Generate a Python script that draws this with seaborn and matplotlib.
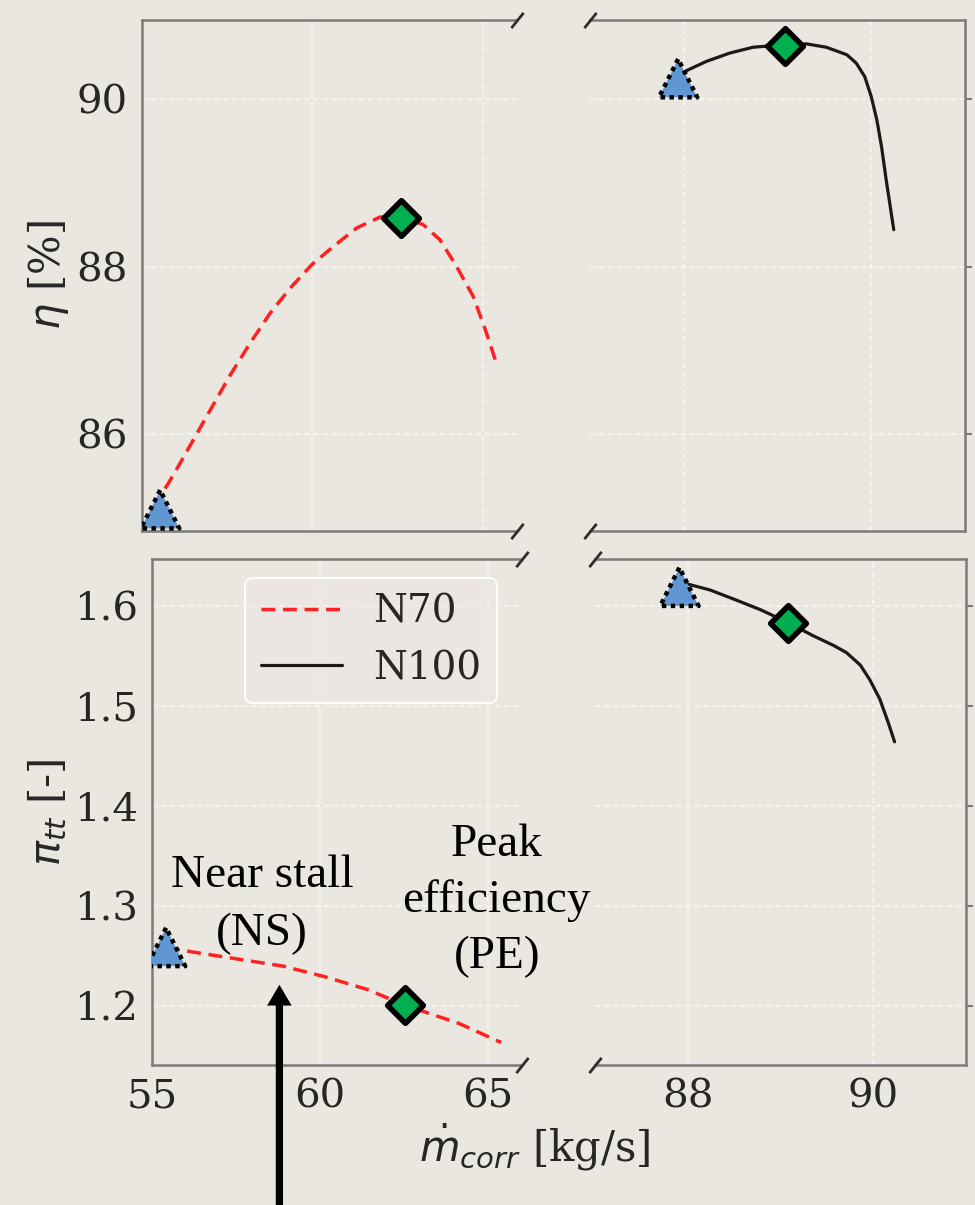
import matplotlib
matplotlib.use("Agg")
import matplotlib.pyplot as plt
import seaborn as sns

# ---------------- data ----------------
# efficiency, N70 (left part of broken axis)
n70_mdot_eta = [55.54, 55.63, 55.93, 56.32, 56.71, 57.10, 57.59, 58.17, 58.76, 59.35,
                59.98, 60.62, 61.30, 61.98, 62.60, 63.25, 63.74, 64.23, 64.72, 65.11, 65.40]
n70_eta = [85.10, 85.31, 85.51, 85.79, 86.07, 86.35, 86.70, 87.08, 87.44, 87.74,
           88.02, 88.24, 88.46, 88.59, 88.60, 88.50, 88.32, 88.00, 87.64, 87.20, 86.84]
# efficiency, N100 (right part)
n100_mdot_eta = [87.94, 88.01, 88.24, 88.49, 88.74, 89.08, 89.31, 89.52, 89.74, 89.84,
                 89.93, 90.00, 90.06, 90.11, 90.16, 90.24]
n100_eta = [90.25, 90.33, 90.45, 90.55, 90.62, 90.65, 90.66, 90.62, 90.53, 90.43,
            90.27, 90.03, 89.75, 89.43, 89.03, 88.44]
# total pressure ratio, N70
n70_mdot_pr = [55.41, 55.67, 57.30, 58.90, 60.15, 61.41, 62.52, 64.14, 65.39]
n70_pr = [1.2586, 1.2564, 1.2478, 1.2394, 1.2287, 1.2160, 1.2003, 1.1820, 1.1630]
# total pressure ratio, N100
n100_mdot_pr = [87.92, 88.02, 88.24, 88.49, 88.78, 89.07, 89.35, 89.57, 89.71, 89.86,
                89.96, 90.07, 90.16, 90.23]
n100_pr = [1.6225, 1.6212, 1.6158, 1.6069, 1.5962, 1.5837, 1.5701, 1.5604, 1.5532, 1.5407,
           1.5264, 1.5068, 1.4836, 1.4639]

# operating points: near stall (NS) and peak efficiency (PE)
ns_mdot_eta = [55.54, 87.94]
ns_eta = [85.10, 90.25]
pe_mdot_eta = [62.60, 89.08]
pe_eta = [88.58, 90.63]
ns_mdot_pr = [55.41, 87.91]
ns_pr = [1.2586, 1.619]
pe_mdot_pr = [62.52, 89.08]
pe_pr = [1.2003, 1.5825]

speed_labels = ["N70", "N100"]
left_xticks = [55, 60, 65]
right_xticks = [88, 90]
eta_ticks = [86, 88, 90]
pr_ticks = [1.2, 1.3, 1.4, 1.5, 1.6]

# ---------------- style ----------------
bg = "#eae6e0"
spine_c = "#7b7b7b"
sns.set_theme(style="whitegrid", rc={
    "axes.facecolor": bg,
    "figure.facecolor": bg,
    "axes.edgecolor": spine_c,
    "axes.linewidth": 1.8,
    "grid.color": "white",
    "axes.axisbelow": True,
})
plt.rcParams["font.family"] = ["DejaVu Serif"]
plt.rcParams["mathtext.fontset"] = "dejavusans"

W, H = 975, 1205
fig = plt.figure(figsize=(W / 100, H / 100), dpi=100, facecolor=bg)


def box(x0, x1, ytop, ybot):
    return [x0 / W, 1 - ybot / H, (x1 - x0) / W, (ybot - ytop) / H]


ax_tl = fig.add_axes(box(141.7, 517, 19.6, 531))
ax_tr = fig.add_axes(box(590, 965, 19.6, 531))
ax_bl = fig.add_axes(box(152.3, 521.7, 559.3, 1065))
ax_br = fig.add_axes(box(595, 966, 559.3, 1065))

red = "#ff2020"
dark = "#1a1a1a"
blue = "#6097d2"
green = "#00b050"


def draw(ax, x70, y70, x100, y100, nsx, nsy, pex, pey):
    sns.lineplot(x=x70, y=y70, ax=ax, color=red, linestyle=(0, (4.0, 2.2)),
                 linewidth=2.5, label=speed_labels[0], errorbar=None, zorder=3)
    sns.lineplot(x=x100, y=y100, ax=ax, color=dark, linewidth=2.3,
                 label=speed_labels[1], errorbar=None, zorder=3)
    sns.scatterplot(x=nsx, y=nsy, ax=ax, marker="^", s=760, color=blue,
                    edgecolor="black", linewidth=3.2, linestyle=(0, (1, 1)), zorder=5)
    sns.scatterplot(x=pex, y=pey, ax=ax, marker="D", s=330, color=green,
                    edgecolor="black", linewidth=4.0, zorder=6)
    lg = ax.get_legend()
    if lg is not None:
        lg.remove()
    ax.set_facecolor(bg)
    ax.grid(True, color="white", linestyle=(0, (3, 2)), linewidth=1.3, alpha=0.6)
    ax.set_xlabel("")
    ax.set_ylabel("")


for ax in (ax_tl, ax_tr):
    draw(ax, n70_mdot_eta, n70_eta, n100_mdot_eta, n100_eta,
         ns_mdot_eta, ns_eta, pe_mdot_eta, pe_eta)
    ax.set_ylim(84.84, 90.95)
    ax.set_yticks(eta_ticks)
for ax in (ax_bl, ax_br):
    draw(ax, n70_mdot_pr, n70_pr, n100_mdot_pr, n100_pr,
         ns_mdot_pr, ns_pr, pe_mdot_pr, pe_pr)
    ax.set_ylim(1.1405, 1.6465)
    ax.set_yticks(pr_ticks)

for ax in (ax_tl, ax_bl):
    ax.set_xlim(55, 66)
    ax.set_xticks(left_xticks)
    ax.spines["right"].set_visible(False)
for ax in (ax_tr, ax_br):
    ax.set_xlim(87, 91)
    ax.set_xticks(right_xticks)
    ax.spines["left"].set_visible(False)
    ax.yaxis.tick_right()

for ax in (ax_tl, ax_tr, ax_bl, ax_br):
    for sp in ax.spines.values():
        sp.set_color(spine_c)
        sp.set_linewidth(1.8)
    ax.tick_params(axis="both", direction="out", length=5, width=1.5,
                   color=spine_c, labelcolor="#262626", labelsize=29, pad=5)

ax_tl.tick_params(axis="x", length=0, labelbottom=False)
ax_tr.tick_params(axis="x", length=0, labelbottom=False)
ax_tr.tick_params(axis="y", labelright=False, labelleft=False, left=False, right=True)
ax_br.tick_params(axis="y", labelright=False, labelleft=False, left=False, right=True)
ax_tl.tick_params(axis="y", right=False)
ax_bl.tick_params(axis="y", right=False)

# break marks
bk = dict(marker=[(-1, -1.25), (1, 1.25)], markersize=11, linestyle="none",
          color="#2e2e2e", mec="#2e2e2e", mew=2.0, clip_on=False, zorder=10)
ax_tl.plot([1, 1], [0, 1], transform=ax_tl.transAxes, **bk)
ax_tr.plot([0, 0], [0, 1], transform=ax_tr.transAxes, **bk)
ax_bl.plot([1, 1], [0, 1], transform=ax_bl.transAxes, **bk)
ax_br.plot([0, 0], [0, 1], transform=ax_br.transAxes, **bk)

# axis labels
fig.text(48 / W, 1 - 275 / H, r"$\eta$ [%]", rotation=90, ha="center", va="center",
         fontsize=30, color="#262626")
fig.text(47 / W, 1 - 812 / H, r"$\pi_{tt}$ [-]", rotation=90, ha="center", va="center",
         fontsize=30, color="#262626")
fig.text(535 / W, 1 - 1147 / H, r"$\dot{m}_{corr}$ [kg/s]", ha="center", va="center",
         fontsize=30, color="#262626")

# legend
h, l = ax_bl.get_legend_handles_labels()
leg = ax_bl.legend(h[:2], l[:2], loc="upper left", bbox_to_anchor=(0.251, 0.963),
                   borderaxespad=0, prop=dict(family="DejaVu Serif", size=28),
                   handlelength=2.1, handletextpad=0.8, borderpad=0.4,
                   labelspacing=0.5, frameon=True, fancybox=True)
for t in leg.get_texts():
    t.set_color("#262626")
fr = leg.get_frame()
fr.set_alpha(None)
fr.set_facecolor((0.93, 0.91, 0.89, 0.35))
fr.set_edgecolor((1, 1, 1, 0.9))
fr.set_linewidth(1.5)

# annotations
ann_font = dict(family="Liberation Serif", size=34, color="black")
ax_bl.text(58.27, 1.2603, "Near stall\n(NS)", ha="center", va="baseline",
           multialignment="center", linespacing=1.5, fontdict=ann_font, zorder=8)
ax_bl.text(65.26, 1.2372, "Peak\nefficiency\n(PE)", ha="center", va="baseline",
           multialignment="center", linespacing=1.42, fontdict=ann_font, zorder=8)
ax_bl.annotate("", xy=(58.785, 1.2208), xycoords="data",
               xytext=(58.785, 0.0), textcoords=("data", "figure fraction"),
               annotation_clip=False,
               arrowprops=dict(arrowstyle="simple,head_length=0.75,head_width=0.88,tail_width=0.26",
                               mutation_scale=20, fc="black", ec="none", lw=0,
                               shrinkA=0, shrinkB=0))

fig.savefig("out.png", dpi=100, facecolor=bg)
